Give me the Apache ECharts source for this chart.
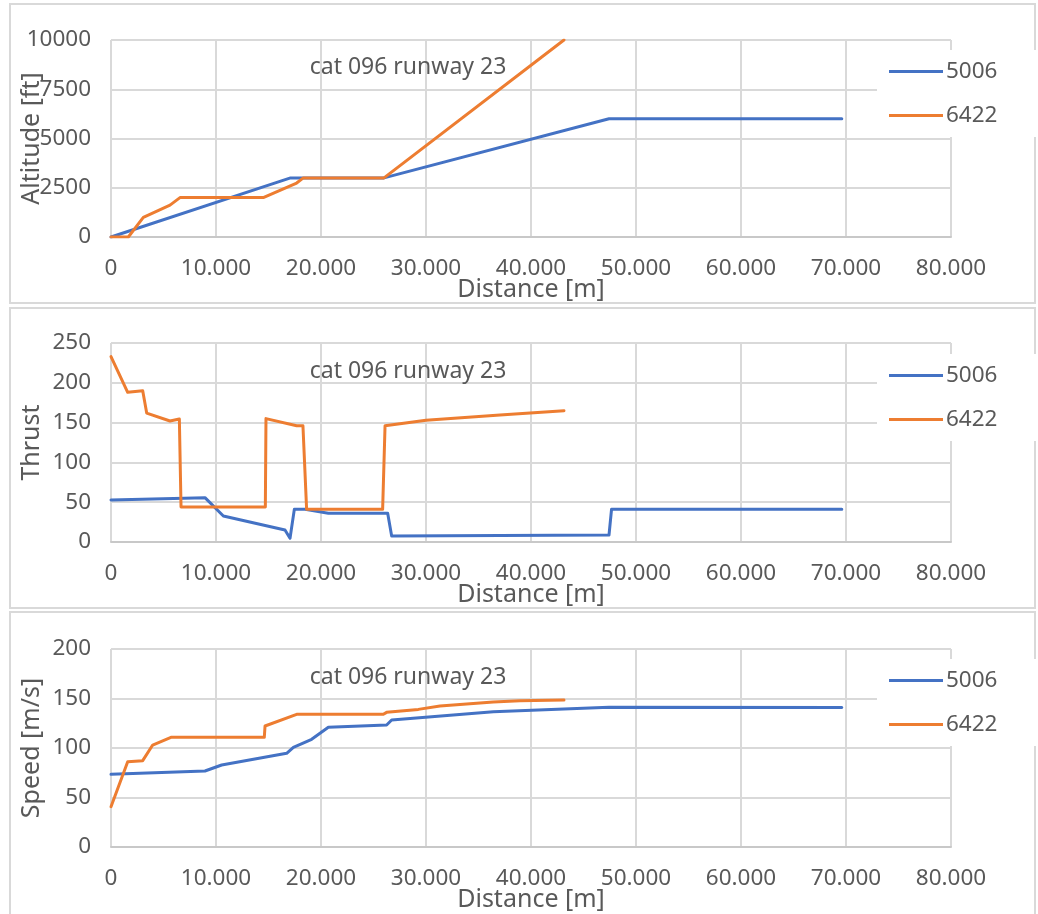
<!DOCTYPE html>
<html>
<head>
<meta charset="utf-8">
<script src="https://cdn.jsdelivr.net/npm/echarts@6/dist/echarts.min.js"></script>
<style>
html,body{margin:0;padding:0;background:#fff;}
#chart{width:1038px;height:914px;}
</style>
</head>
<body>
<div id="chart"></div>
<script>
// ---------- data ----------
const seriesNames = ['5006', '6422'];
const chartTitle = 'cat 096 runway 23';
const xAxisName = 'Distance [m]';
const yAxisNames = ['Altitude [ft]', 'Thrust', 'Speed [m/s]'];
const xTicks = {min: 0, max: 80000, interval: 10000};
const yTicks = [
  {min: 0, max: 10000, interval: 2500},
  {min: 0, max: 250, interval: 50},
  {min: 0, max: 200, interval: 50}
];

// [distance m, altitude ft]
const altitude5006 = [[0,0],[17100,3000],[26000,3000],[47430,6000],[69600,6000]];
const altitude6422 = [[0,0],[1650,0],[3080,1000],[5620,1620],[6570,2000],[14500,2000],[17680,2740],[18320,3000],[26000,3000],[43140,10000]];

// [distance m, thrust]
const thrust5006 = [[0,52.8],[8950,55.7],[10700,32.7],[16570,15],[17050,4.6],[17460,41],[18480,41],[20700,36],[26350,36],[26730,7.5],[47430,8.8],[47670,41],[69600,41]];
const thrust6422 = [[0,233],[1590,188],[3020,190],[3400,162],[5620,152],[6510,154.5],[6670,44],[14700,44],[14760,155],[17680,146],[18280,146],[18630,41],[25870,41],[26100,146],[30000,153],[37050,159.5],[43140,165]];

// [distance m, speed m/s]
const speed5006 = [[0,73.4],[8950,76.8],[10540,82.8],[16730,94.6],[17370,100.7],[19110,108.8],[20700,120.9],[26250,123.2],[26730,128.3],[36410,136.7],[47430,141.1],[69600,141]];
const speed6422 = [[0,40.7],[1590,86.2],[3020,87.2],[3970,103],[5710,110.8],[14600,110.8],[14670,122.2],[17680,134],[25940,134],[26250,136],[29270,139],[31330,142.4],[36410,146.5],[38950,147.8],[43140,148.5]];

const panelData = [
  [altitude5006, altitude6422],
  [thrust5006, thrust6422],
  [speed5006, speed6422]
];

// ---------- style / layout ----------
const colors = ['#4472C4', '#ED7D31'];
const textColor = '#595959';
const gridColor = '#d9d9d9';
const fontFamily = '"Noto Sans", "Open Sans", sans-serif';
const gridLayout = [
  {top: 40, height: 197},
  {top: 343, height: 199},
  {top: 649, height: 198}
];
const titleCenters = [70, 374, 680];
const legendTops = [50, 354, 659];
const panelRects = [
  {y: 4, h: 299},
  {y: 308, h: 300},
  {y: 612, h: 310}
];

function dotThousands(v) {
  return String(v).replace(/\B(?=(\d{3})+(?!\d))/g, '.');
}

const grids = [], xAxes = [], yAxes = [], series = [], legends = [], titles = [], graphics = [];

panelRects.forEach(function (p) {
  graphics.push({
    type: 'rect', silent: true, z: 0,
    shape: {x: 10, y: p.y, width: 1025, height: p.h},
    style: {fill: null, stroke: gridColor, lineWidth: 2}
  });
});

for (let i = 0; i < 3; i++) {
  grids.push({left: 111, width: 840, top: gridLayout[i].top, height: gridLayout[i].height,
    containLabel: false, outerBoundsMode: 'none'});
  xAxes.push({
    type: 'value', gridIndex: i,
    min: xTicks.min, max: xTicks.max, interval: xTicks.interval,
    name: xAxisName, nameLocation: 'middle', nameGap: 40, nameMoveOverlap: false,
    nameTextStyle: {color: textColor, fontSize: 25, fontFamily: fontFamily},
    axisLine: {show: true, lineStyle: {color: '#c8c8c8', width: 2}},
    axisTick: {show: false},
    axisLabel: {color: textColor, fontSize: 22.5, fontFamily: fontFamily, margin: 20,
      formatter: function (v) { return dotThousands(v); }},
    splitLine: {show: true, lineStyle: {color: gridColor, width: 2}}
  });
  yAxes.push({
    type: 'value', gridIndex: i,
    min: yTicks[i].min, max: yTicks[i].max, interval: yTicks[i].interval,
    name: yAxisNames[i], nameLocation: 'middle', nameGap: 67, nameMoveOverlap: false,
    nameTextStyle: {color: textColor, fontSize: 25, fontFamily: fontFamily},
    axisLine: {show: false},
    axisTick: {show: false},
    axisLabel: {color: textColor, fontSize: 22.5, fontFamily: fontFamily, margin: 20,
      formatter: function (v) { return String(v); }},
    splitLine: {show: true, lineStyle: {color: gridColor, width: 2}}
  });
  for (let s = 0; s < 2; s++) {
    series.push({
      type: 'line',
      name: seriesNames[s],
      xAxisIndex: i, yAxisIndex: i,
      data: panelData[i][s],
      showSymbol: false, symbol: 'none',
      lineStyle: {color: colors[s], width: 3, join: 'round', cap: 'round'},
      itemStyle: {color: colors[s]},
      animation: false,
      z: 3 + s
    });
  }
  titles.push({
    text: chartTitle,
    left: 408, top: titleCenters[i] - 14,
    textAlign: 'center',
    padding: 0,
    textStyle: {color: textColor, fontSize: 23, fontWeight: 'normal', fontFamily: fontFamily}
  });
  legends.push({
    orient: 'vertical',
    left: 877, top: legendTops[i],
    padding: [10, 40, 10, 12],
    backgroundColor: '#fff',
    itemWidth: 54, itemHeight: 3,
    itemGap: 21,
    icon: 'rect',
    data: seriesNames.map(function (n, k) {
      return {name: n, itemStyle: {color: colors[k]}};
    }),
    textStyle: {color: textColor, fontSize: 22.5, fontFamily: fontFamily, lineHeight: 23, padding: [0,0,0,-2]},
    selectedMode: false,
    z: 10
  });
}

const chart = echarts.init(document.getElementById('chart'), null, {renderer: 'canvas'});
chart.setOption({
  backgroundColor: '#fff',
  animation: false,
  color: colors,
  title: titles,
  legend: legends,
  grid: grids,
  xAxis: xAxes,
  yAxis: yAxes,
  series: series,
  graphic: {elements: graphics}
});
</script>
</body>
</html>
